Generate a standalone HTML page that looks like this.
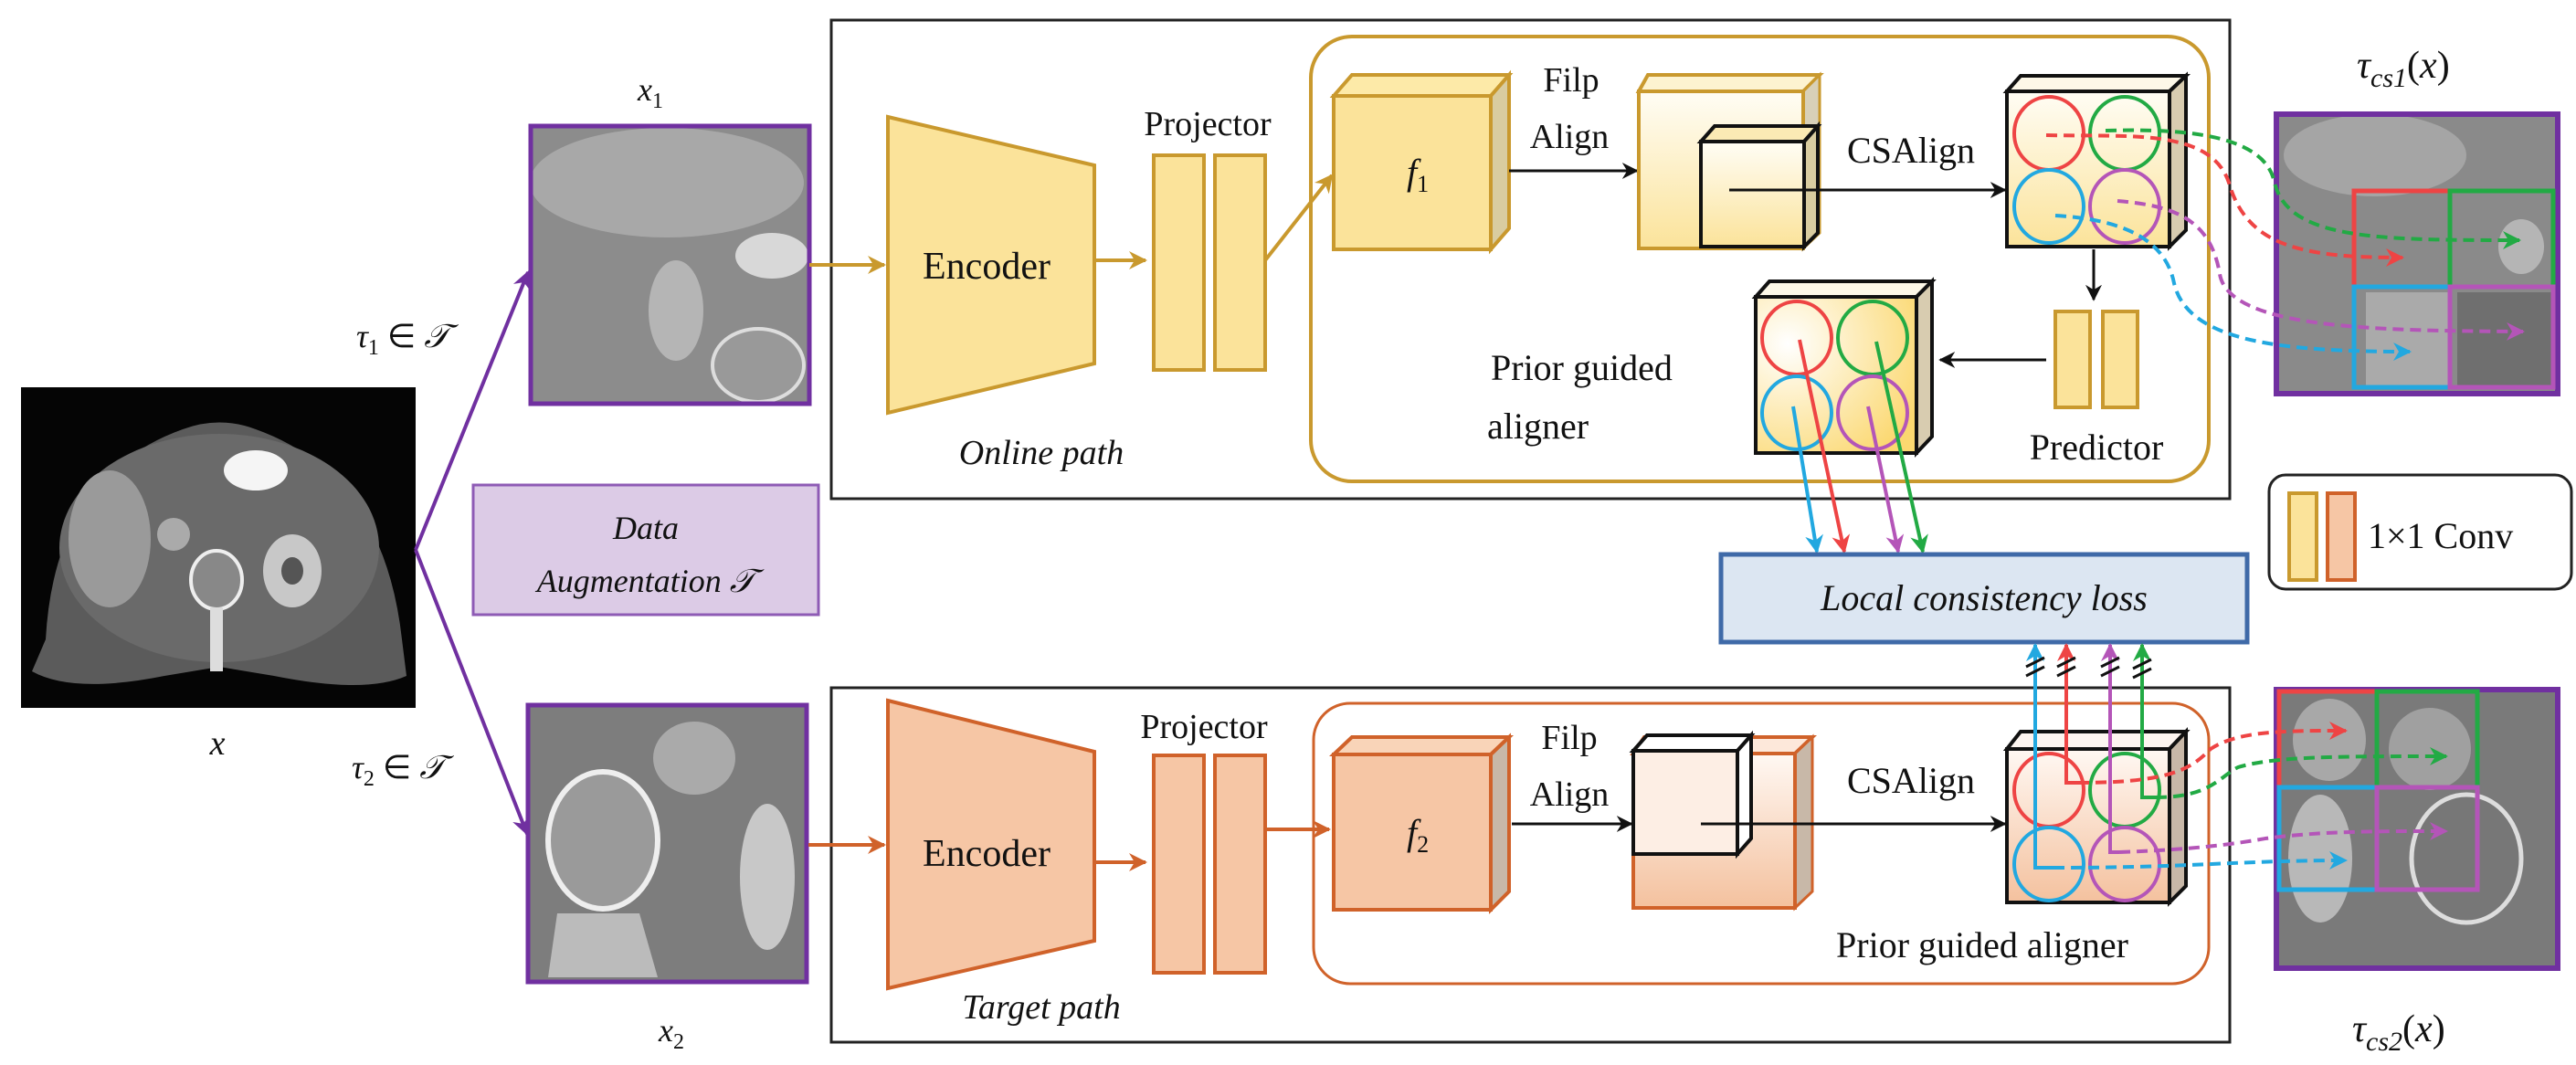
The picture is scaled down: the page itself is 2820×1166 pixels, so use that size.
<!DOCTYPE html>
<html><head><meta charset="utf-8"><style>
html,body{margin:0;padding:0;background:#fff;}
svg{display:block;}
text{font-family:"Liberation Serif",serif;fill:#111;}
.it{font-style:italic;}
</style></head><body>
<svg width="2820" height="1166" viewBox="0 0 2820 1166" xmlns="http://www.w3.org/2000/svg">
<defs>
<linearGradient id="gy" x1="0" y1="0" x2="0" y2="1"><stop offset="0" stop-color="#fffdf5"/><stop offset="1" stop-color="#fbe39a"/></linearGradient>
<linearGradient id="go" x1="0" y1="0" x2="0" y2="1"><stop offset="0" stop-color="#fff8f3"/><stop offset="1" stop-color="#f4c19e"/></linearGradient>
<radialGradient id="gy2" cx="0.2" cy="0.3" r="0.9"><stop offset="0" stop-color="#ffffff"/><stop offset="1" stop-color="#fbd870"/></radialGradient>
<marker id="ak" viewBox="0 0 10 10" refX="9" refY="5" markerWidth="6" markerHeight="6" orient="auto"><path d="M0,0 L10,5 L0,10 L3,5 z" fill="#111"/></marker>
<marker id="ag" viewBox="0 0 10 10" refX="9" refY="5" markerWidth="5" markerHeight="5" orient="auto"><path d="M0,0 L10,5 L0,10 L3,5 z" fill="#c9992e"/></marker>
<marker id="ao" viewBox="0 0 10 10" refX="9" refY="5" markerWidth="5" markerHeight="5" orient="auto"><path d="M0,0 L10,5 L0,10 L3,5 z" fill="#d0622a"/></marker>
<marker id="ap" viewBox="0 0 10 10" refX="9" refY="5" markerWidth="5" markerHeight="5" orient="auto"><path d="M0,0 L10,5 L0,10 L3,5 z" fill="#7030a0"/></marker>
<marker id="aR" viewBox="0 0 10 10" refX="9" refY="5" markerWidth="5" markerHeight="5" orient="auto"><path d="M0,0 L10,5 L0,10 L3,5 z" fill="#ee4444"/></marker>
<marker id="aG" viewBox="0 0 10 10" refX="9" refY="5" markerWidth="5" markerHeight="5" orient="auto"><path d="M0,0 L10,5 L0,10 L3,5 z" fill="#22aa44"/></marker>
<marker id="aB" viewBox="0 0 10 10" refX="9" refY="5" markerWidth="5" markerHeight="5" orient="auto"><path d="M0,0 L10,5 L0,10 L3,5 z" fill="#22a8e0"/></marker>
<marker id="aP" viewBox="0 0 10 10" refX="9" refY="5" markerWidth="5" markerHeight="5" orient="auto"><path d="M0,0 L10,5 L0,10 L3,5 z" fill="#b455b8"/></marker>
</defs>

<rect x="23" y="424" width="432" height="351" fill="#050505"/>
<path d="M50,700 Q60,520 200,470 Q240,455 280,470 Q420,520 440,700 L445,740 Q400,760 300,740 L240,730 L180,740 Q80,760 35,735 Z" fill="#5b5b5b"/>
<ellipse cx="240" cy="600" rx="175" ry="125" fill="#6a6a6a"/>
<ellipse cx="120" cy="590" rx="45" ry="75" fill="#9a9a9a"/>
<ellipse cx="280" cy="515" rx="35" ry="22" fill="#f5f5f5"/>
<ellipse cx="320" cy="625" rx="32" ry="40" fill="#c8c8c8"/>
<ellipse cx="320" cy="625" rx="12" ry="15" fill="#555"/>
<ellipse cx="237" cy="635" rx="28" ry="32" fill="#888" stroke="#eee" stroke-width="4"/>
<rect x="230" y="665" width="14" height="70" fill="#ddd"/>
<ellipse cx="190" cy="585" rx="18" ry="18" fill="#aaa"/>
<text x="238" y="826" font-size="38" class="it" text-anchor="middle">x</text>

<line x1="455" y1="602" x2="578" y2="298" stroke="#7030a0" stroke-width="4" marker-end="url(#ap)"/>
<line x1="455" y1="602" x2="577" y2="913" stroke="#7030a0" stroke-width="4" marker-end="url(#ap)"/>
<text x="390" y="380" font-size="36" class="it">τ<tspan font-size="24" dy="8" font-style="normal">1</tspan><tspan dy="-8" font-style="normal"> ∈ </tspan>𝒯</text>
<text x="385" y="852" font-size="36" class="it">τ<tspan font-size="24" dy="8" font-style="normal">2</tspan><tspan dy="-8" font-style="normal"> ∈ </tspan>𝒯</text>

<rect x="581" y="138" width="305" height="304" fill="#8c8c8c"/>
<ellipse cx="730" cy="200" rx="150" ry="60" fill="#a8a8a8"/>
<ellipse cx="740" cy="340" rx="30" ry="55" fill="#b5b5b5"/>
<ellipse cx="845" cy="280" rx="40" ry="25" fill="#d8d8d8"/>
<ellipse cx="830" cy="400" rx="50" ry="40" fill="#999" stroke="#ddd" stroke-width="4"/>
<rect x="581" y="138" width="305" height="304" fill="none" stroke="#7030a0" stroke-width="5"/>
<text x="712" y="110" font-size="36" class="it" text-anchor="middle">x<tspan font-size="24" dy="8" font-style="normal">1</tspan></text>

<rect x="578" y="772" width="305" height="303" fill="#7d7d7d"/>
<ellipse cx="660" cy="920" rx="60" ry="75" fill="#9a9a9a" stroke="#eee" stroke-width="6"/>
<ellipse cx="760" cy="830" rx="45" ry="40" fill="#aaa"/>
<ellipse cx="840" cy="960" rx="30" ry="80" fill="#c8c8c8"/>
<path d="M610,1000 L700,1000 L720,1070 L600,1070 Z" fill="#bbb"/>
<rect x="578" y="772" width="305" height="303" fill="none" stroke="#7030a0" stroke-width="5"/>
<text x="735" y="1140" font-size="36" class="it" text-anchor="middle">x<tspan font-size="24" dy="8" font-style="normal">2</tspan></text>

<rect x="518" y="531" width="378" height="142" fill="#dccbe6" stroke="#8e5bb5" stroke-width="3"/>
<text x="707" y="590" font-size="36" class="it" text-anchor="middle">Data</text>
<text x="707" y="648" font-size="36" class="it" text-anchor="middle">Augmentation 𝒯</text>

<rect x="910" y="22" width="1531" height="524" fill="none" stroke="#222" stroke-width="3"/>
<rect x="910" y="753" width="1531" height="388" fill="none" stroke="#222" stroke-width="3"/>

<rect x="1435" y="40" width="983" height="487" rx="45" fill="none" stroke="#c9992e" stroke-width="4"/>
<rect x="1438" y="770" width="980" height="307" rx="40" fill="none" stroke="#d0622a" stroke-width="3"/>

<line x1="886" y1="290" x2="968" y2="290" stroke="#c9992e" stroke-width="4" marker-end="url(#ag)"/>
<polygon points="972,128 1198,181 1198,398 972,452" fill="#fbe39a" stroke="#c9992e" stroke-width="4"/>
<text x="1080" y="305" font-size="42" text-anchor="middle">Encoder</text>
<line x1="1198" y1="285" x2="1254" y2="285" stroke="#c9992e" stroke-width="4" marker-end="url(#ag)"/>
<rect x="1263" y="170" width="55" height="235" fill="#fbe39a" stroke="#c9992e" stroke-width="4"/>
<rect x="1330" y="170" width="55" height="235" fill="#fbe39a" stroke="#c9992e" stroke-width="4"/>
<text x="1322" y="148" font-size="38" text-anchor="middle">Projector</text>
<line x1="1385" y1="285" x2="1458" y2="192" stroke="#c9992e" stroke-width="4" marker-end="url(#ag)"/>
<text x="1140" y="508" font-size="38" class="it" text-anchor="middle">Online path</text>

<line x1="885" y1="925" x2="968" y2="925" stroke="#d0622a" stroke-width="4" marker-end="url(#ao)"/>
<polygon points="972,767 1198,823 1198,1030 972,1082" fill="#f6c6a5" stroke="#d0622a" stroke-width="4"/>
<text x="1080" y="948" font-size="42" text-anchor="middle">Encoder</text>
<line x1="1198" y1="944" x2="1254" y2="944" stroke="#d0622a" stroke-width="4" marker-end="url(#ao)"/>
<rect x="1263" y="827" width="55" height="238" fill="#f6c6a5" stroke="#d0622a" stroke-width="4"/>
<rect x="1330" y="827" width="55" height="238" fill="#f6c6a5" stroke="#d0622a" stroke-width="4"/>
<text x="1318" y="808" font-size="38" text-anchor="middle">Projector</text>
<line x1="1385" y1="908" x2="1455" y2="908" stroke="#d0622a" stroke-width="4" marker-end="url(#ao)"/>
<text x="1140" y="1115" font-size="38" class="it" text-anchor="middle">Target path</text>

<polygon points="1460,105 1480,82 1652,82 1632,105" fill="#fdeaa8" stroke="#c9992e" stroke-width="4"/>
<polygon points="1632,105 1652,82 1652,250 1632,273" fill="#d9cca0" stroke="#c9992e" stroke-width="4"/>
<rect x="1460" y="105" width="172" height="168" fill="#fbe39a" stroke="#c9992e" stroke-width="4"/>
<text x="1540" y="202" font-size="40" class="it">f<tspan font-size="26" dy="8" font-style="normal">1</tspan></text>
<text x="1720" y="100" font-size="38" text-anchor="middle">Filp</text>
<text x="1718" y="162" font-size="38" text-anchor="middle">Align</text>
<line x1="1652" y1="187" x2="1792" y2="187" stroke="#111" stroke-width="3" marker-end="url(#ak)"/>

<polygon points="1794,100 1804,82 1992,82 1974,100" fill="#fdf3d0" stroke="#c9992e" stroke-width="4"/>
<polygon points="1974,100 1992,82 1992,255 1974,272" fill="#d8d0b8" stroke="#c9992e" stroke-width="3"/>
<rect x="1794" y="100" width="180" height="172" fill="url(#gy)" stroke="#c9992e" stroke-width="4"/>
<polygon points="1862,155 1877,138 1990,138 1975,155" fill="#fbeab4" stroke="#111" stroke-width="4"/>
<polygon points="1975,155 1990,138 1990,255 1975,270" fill="#d9cca0" stroke="#111" stroke-width="4"/>
<rect x="1862" y="155" width="113" height="115" fill="url(#gy)" stroke="#111" stroke-width="4"/>
<line x1="1893" y1="208" x2="2195" y2="208" stroke="#111" stroke-width="3" marker-end="url(#ak)"/>
<text x="2092" y="178" font-size="40" text-anchor="middle">CSAlign</text>

<polygon points="2197,100 2212,83 2393,83 2375,100" fill="#fdf8e8" stroke="#111" stroke-width="4"/>
<polygon points="2375,100 2393,83 2393,252 2375,270" fill="#d8ccb0" stroke="#111" stroke-width="4"/>
<rect x="2197" y="100" width="178" height="170" fill="url(#gy)" stroke="#111" stroke-width="4"/>
<ellipse cx="2243" cy="146" rx="38" ry="40" fill="none" stroke="#ee4444" stroke-width="4"/>
<ellipse cx="2326" cy="146" rx="38" ry="40" fill="none" stroke="#22aa44" stroke-width="4"/>
<ellipse cx="2243" cy="226" rx="38" ry="40" fill="none" stroke="#22a8e0" stroke-width="4"/>
<ellipse cx="2326" cy="226" rx="38" ry="40" fill="none" stroke="#b455b8" stroke-width="4"/>
<line x1="2292" y1="273" x2="2292" y2="328" stroke="#111" stroke-width="3" marker-end="url(#ak)"/>
<rect x="2250" y="341" width="38" height="105" fill="#fbe39a" stroke="#c9992e" stroke-width="4"/>
<rect x="2302" y="341" width="38" height="105" fill="#fbe39a" stroke="#c9992e" stroke-width="4"/>
<text x="2295" y="503" font-size="40" text-anchor="middle">Predictor</text>
<line x1="2240" y1="394" x2="2124" y2="394" stroke="#111" stroke-width="3" marker-end="url(#ak)"/>
<text x="1632" y="416" font-size="40">Prior guided</text>
<text x="1628" y="480" font-size="40">aligner</text>

<polygon points="1922,325 1937,308 2115,308 2098,325" fill="#fdf8e8" stroke="#111" stroke-width="4"/>
<polygon points="2098,325 2115,308 2115,478 2098,496" fill="#d8ccb0" stroke="#111" stroke-width="4"/>
<rect x="1922" y="325" width="176" height="171" fill="url(#gy2)" stroke="#111" stroke-width="4"/>
<ellipse cx="1967" cy="370" rx="38" ry="40" fill="none" stroke="#ee4444" stroke-width="4"/>
<ellipse cx="2050" cy="370" rx="38" ry="40" fill="none" stroke="#22aa44" stroke-width="4"/>
<ellipse cx="1967" cy="452" rx="38" ry="40" fill="none" stroke="#22a8e0" stroke-width="4"/>
<ellipse cx="2050" cy="452" rx="38" ry="40" fill="none" stroke="#b455b8" stroke-width="4"/>
<line x1="1963" y1="445" x2="1989" y2="604" stroke="#22a8e0" stroke-width="4" marker-end="url(#aB)"/>
<line x1="1970" y1="372" x2="2019" y2="604" stroke="#ee4444" stroke-width="4" marker-end="url(#aR)"/>
<line x1="2045" y1="445" x2="2078" y2="604" stroke="#b455b8" stroke-width="4" marker-end="url(#aP)"/>
<line x1="2054" y1="374" x2="2105" y2="604" stroke="#22aa44" stroke-width="4" marker-end="url(#aG)"/>

<rect x="2492" y="125" width="308" height="306" fill="#8a8a8a"/>
<ellipse cx="2600" cy="170" rx="100" ry="45" fill="#a5a5a5"/>
<ellipse cx="2760" cy="270" rx="25" ry="30" fill="#b5b5b5"/>
<rect x="2690" y="320" width="105" height="105" fill="#6f6f6f"/>
<rect x="2590" y="320" width="90" height="105" fill="#aaa"/>
<rect x="2492" y="125" width="308" height="306" fill="none" stroke="#7030a0" stroke-width="6"/>
<rect x="2577" y="209" width="105" height="105" fill="none" stroke="#ee4444" stroke-width="5"/>
<rect x="2682" y="209" width="113" height="105" fill="none" stroke="#22aa44" stroke-width="5"/>
<rect x="2577" y="314" width="105" height="110" fill="none" stroke="#22a8e0" stroke-width="5"/>
<rect x="2682" y="314" width="113" height="110" fill="none" stroke="#b455b8" stroke-width="5"/>
<text x="2580" y="85" font-size="42" class="it">τ<tspan font-size="30" dy="10">cs1</tspan><tspan dy="-10" font-style="normal">(</tspan>x<tspan font-style="normal">)</tspan></text>

<g fill="none" stroke-width="4" stroke-dasharray="12,7">
<path d="M2240,148 C2330,150 2420,140 2440,200 C2460,270 2520,282 2630,282" stroke="#ee4444" marker-end="url(#aR)"/>
<path d="M2305,143 C2400,140 2480,150 2490,200 C2505,262 2600,263 2758,263" stroke="#22aa44" marker-end="url(#aG)"/>
<path d="M2318,220 C2380,225 2420,240 2430,300 C2440,360 2600,362 2762,363" stroke="#b455b8" marker-end="url(#aP)"/>
<path d="M2250,236 C2320,240 2370,260 2380,310 C2395,375 2500,385 2638,385" stroke="#22a8e0" marker-end="url(#aB)"/>
</g>

<rect x="2484" y="520" width="331" height="125" rx="18" fill="none" stroke="#222" stroke-width="3"/>
<rect x="2506" y="540" width="30" height="95" fill="#fbe39a" stroke="#c9992e" stroke-width="4"/>
<rect x="2548" y="540" width="30" height="95" fill="#f6c6a5" stroke="#d0622a" stroke-width="4"/>
<text x="2592" y="600" font-size="40">1×1 Conv</text>

<rect x="1884" y="607" width="576" height="96" fill="#dce6f2" stroke="#3f6aa8" stroke-width="5"/>
<text x="2172" y="668" font-size="40" class="it" text-anchor="middle">Local consistency loss</text>

<polygon points="1460,826 1480,807 1652,807 1632,826" fill="#f9d4b8" stroke="#d0622a" stroke-width="4"/>
<polygon points="1632,826 1652,807 1652,976 1632,996" fill="#c8b8a8" stroke="#d0622a" stroke-width="4"/>
<rect x="1460" y="826" width="172" height="170" fill="#f6c6a5" stroke="#d0622a" stroke-width="4"/>
<text x="1540" y="925" font-size="40" class="it">f<tspan font-size="26" dy="8" font-style="normal">2</tspan></text>
<text x="1718" y="820" font-size="38" text-anchor="middle">Filp</text>
<text x="1718" y="882" font-size="38" text-anchor="middle">Align</text>
<line x1="1655" y1="902" x2="1786" y2="902" stroke="#111" stroke-width="3" marker-end="url(#ak)"/>

<polygon points="1788,825 1800,807 1984,807 1965,825" fill="#fde8da" stroke="#d0622a" stroke-width="4"/>
<polygon points="1965,825 1984,807 1984,976 1965,994" fill="#c8b8a8" stroke="#d0622a" stroke-width="3"/>
<rect x="1788" y="825" width="177" height="169" fill="url(#go)" stroke="#d0622a" stroke-width="4"/>
<polygon points="1788,822 1803,805 1917,805 1902,822" fill="#fff" stroke="#111" stroke-width="4"/>
<polygon points="1902,822 1917,805 1917,918 1902,935" fill="#fff" stroke="#111" stroke-width="4"/>
<rect x="1788" y="822" width="114" height="113" fill="#fdeee4" stroke="#111" stroke-width="4"/>
<line x1="1862" y1="902" x2="2195" y2="902" stroke="#111" stroke-width="3" marker-end="url(#ak)"/>
<text x="2092" y="868" font-size="40" text-anchor="middle">CSAlign</text>

<polygon points="2197,820 2212,801 2393,801 2375,820" fill="#fdf5f0" stroke="#111" stroke-width="4"/>
<polygon points="2375,820 2393,801 2393,970 2375,988" fill="#c8b8a8" stroke="#111" stroke-width="4"/>
<rect x="2197" y="820" width="178" height="168" fill="url(#go)" stroke="#111" stroke-width="4"/>
<ellipse cx="2243" cy="865" rx="38" ry="40" fill="none" stroke="#ee4444" stroke-width="4"/>
<ellipse cx="2326" cy="865" rx="38" ry="40" fill="none" stroke="#22aa44" stroke-width="4"/>
<ellipse cx="2243" cy="946" rx="38" ry="40" fill="none" stroke="#22a8e0" stroke-width="4"/>
<ellipse cx="2326" cy="946" rx="38" ry="40" fill="none" stroke="#b455b8" stroke-width="4"/>
<text x="2170" y="1048" font-size="40" text-anchor="middle">Prior guided aligner</text>

<g fill="none" stroke-width="4">
<polyline points="2248,950 2228,950 2228,706" stroke="#22a8e0" marker-end="url(#aB)"/>
<polyline points="2275,857 2262,857 2262,706" stroke="#ee4444" marker-end="url(#aR)"/>
<polyline points="2320,933 2310,933 2310,706" stroke="#b455b8" marker-end="url(#aP)"/>
<polyline points="2360,873 2345,873 2345,706" stroke="#22aa44" marker-end="url(#aG)"/>
</g>
<g stroke="#111" stroke-width="3">
<line x1="2218" y1="730" x2="2238" y2="720"/><line x1="2218" y1="740" x2="2238" y2="730"/>
<line x1="2252" y1="730" x2="2272" y2="720"/><line x1="2252" y1="740" x2="2272" y2="730"/>
<line x1="2300" y1="730" x2="2320" y2="720"/><line x1="2300" y1="740" x2="2320" y2="730"/>
<line x1="2335" y1="732" x2="2355" y2="722"/><line x1="2335" y1="742" x2="2355" y2="732"/>
</g>

<rect x="2492" y="755" width="308" height="305" fill="#7a7a7a"/>
<ellipse cx="2550" cy="810" rx="40" ry="45" fill="#a8a8a8"/>
<ellipse cx="2660" cy="820" rx="45" ry="45" fill="#a0a0a0"/>
<ellipse cx="2540" cy="940" rx="35" ry="70" fill="#b8b8b8"/>
<ellipse cx="2700" cy="940" rx="60" ry="70" fill="#777" stroke="#ddd" stroke-width="5"/>
<rect x="2492" y="755" width="308" height="305" fill="none" stroke="#7030a0" stroke-width="6"/>
<rect x="2495" y="757" width="107" height="105" fill="none" stroke="#ee4444" stroke-width="5"/>
<rect x="2602" y="757" width="110" height="105" fill="none" stroke="#22aa44" stroke-width="5"/>
<rect x="2495" y="862" width="107" height="112" fill="none" stroke="#22a8e0" stroke-width="5"/>
<rect x="2602" y="862" width="110" height="112" fill="none" stroke="#b455b8" stroke-width="5"/>
<text x="2575" y="1140" font-size="42" class="it">τ<tspan font-size="30" dy="10">cs2</tspan><tspan dy="-10" font-style="normal">(</tspan>x<tspan font-style="normal">)</tspan></text>

<g fill="none" stroke-width="4" stroke-dasharray="12,7">
<path d="M2275,857 C2380,857 2400,840 2420,820 C2450,800 2500,800 2568,800" stroke="#ee4444" marker-end="url(#aR)"/>
<path d="M2360,873 C2420,873 2430,850 2450,840 C2490,828 2560,828 2678,828" stroke="#22aa44" marker-end="url(#aG)"/>
<path d="M2320,933 C2400,930 2440,925 2480,918 C2540,910 2600,910 2678,910" stroke="#b455b8" marker-end="url(#aP)"/>
<path d="M2248,950 C2400,950 2450,942 2568,942" stroke="#22a8e0" marker-end="url(#aB)"/>
</g>
</svg>
</body></html>
